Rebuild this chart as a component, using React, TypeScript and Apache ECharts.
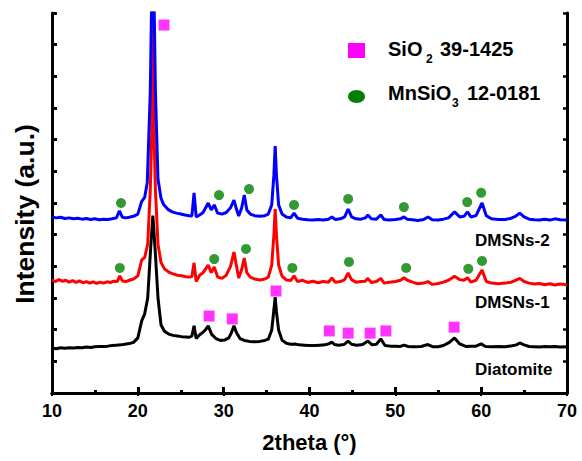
import React, { useEffect, useRef } from "react";
import * as echarts from "echarts";

const xTicks = [10, 20, 30, 40, 50, 60, 70];

const blueDMSNs2: [number, number][] = [
  [10, 556], [10.5, 553], [11, 555], [11.5, 551], [12, 553], [12.5, 550], [13, 552], [13.5, 549], [14, 551], [14.5, 548],
  [15, 550], [15.5, 547], [16, 549], [16.5, 548], [17, 550], [17.5, 553], [17.85, 575], [18.2, 555], [18.6, 553], [19, 555],
  [19.5, 558], [20.0, 565], [20.45, 605], [20.8, 618], [21.1, 665], [21.45, 950], [21.75, 1500], [22.05, 950], [22.35, 675],
  [22.7, 615], [23.0, 595], [23.5, 580], [24, 572], [24.5, 568], [25, 565], [25.5, 562], [26, 560], [26.3, 559], [26.55, 632],
  [26.8, 556], [27.2, 562], [27.6, 570], [27.9, 585], [28.2, 600], [28.55, 578], [28.9, 594], [29.3, 568], [29.8, 565],
  [30.3, 570], [30.8, 585], [31.2, 609], [31.5, 580], [31.75, 559], [32.1, 585], [32.4, 625], [32.7, 578], [33.1, 565],
  [33.6, 560], [34.2, 558], [34.8, 560], [35.2, 565], [35.6, 594], [35.85, 688], [36.0, 780], [36.15, 688], [36.4, 594],
  [36.8, 565], [37.3, 556], [37.8, 553], [38.2, 568], [38.6, 552], [39.2, 549], [39.8, 547], [40.4, 546], [41, 548],
  [41.6, 546], [42.2, 549], [42.6, 556], [43, 548], [43.6, 550], [44.1, 556], [44.5, 581], [44.9, 556], [45.4, 550],
  [46, 549], [46.5, 553], [46.8, 562], [47.2, 550], [47.8, 549], [48.3, 562], [48.7, 548], [49.3, 546], [50, 548],
  [50.6, 550], [51, 556], [51.4, 549], [52, 547], [52.6, 545], [53.3, 548], [53.8, 556], [54.3, 547], [55, 546],
  [55.6, 549], [56.2, 553], [56.9, 572], [57.5, 556], [58, 558], [58.4, 572], [58.8, 556], [59.4, 560], [60.1, 600],
  [60.6, 560], [61.2, 550], [62, 548], [62.8, 548], [63.5, 552], [64, 558], [64.5, 568], [65, 556], [65.6, 549],
  [66.2, 547], [66.8, 546], [67.4, 549], [68, 546], [68.6, 550], [69.2, 547], [70, 546],
];

const redDMSNs1: [number, number][] = [
  [10, 357], [10.4, 352], [10.8, 358], [11.2, 353], [11.6, 356], [12, 350], [12.4, 355], [12.8, 349], [13.2, 354], [13.6, 348],
  [14, 352], [14.4, 347], [14.8, 351], [15.2, 346], [15.6, 350], [16, 347], [16.4, 351], [16.8, 349], [17.2, 353], [17.6, 352],
  [17.9, 370], [18.2, 354], [18.6, 352], [19, 356], [19.5, 360], [20, 370], [20.45, 420], [20.8, 428], [21.15, 470],
  [21.45, 640], [21.62, 820], [21.75, 1500], [21.88, 820], [22.05, 640], [22.35, 470], [22.7, 412], [23.1, 392], [23.6, 382],
  [24.1, 376], [24.6, 372],
  [25.1, 370], [25.6, 367], [26, 366], [26.3, 368], [26.55, 411], [26.8, 352], [27.2, 372], [27.6, 380], [27.9, 392],
  [28.2, 404], [28.55, 380], [28.9, 398], [29.3, 366], [29.8, 362], [30.3, 372], [30.8, 400], [31.2, 445], [31.5, 400],
  [31.75, 363], [32.1, 390], [32.4, 426], [32.7, 380], [33.1, 366], [33.6, 360], [34.2, 357], [34.8, 360], [35.2, 366],
  [35.6, 404], [35.85, 499], [36.0, 581], [36.15, 499], [36.4, 404], [36.8, 369], [37.3, 357], [37.8, 355], [38.2, 370],
  [38.6, 352], [39.2, 356], [39.8, 349], [40.4, 353], [41, 348], [41.6, 352], [42.2, 350], [42.6, 363], [43, 350],
  [43.6, 352], [44.1, 358], [44.5, 379], [44.9, 358], [45.4, 350], [46, 352], [46.5, 353], [46.8, 362], [47.2, 349],
  [47.8, 352], [48.3, 362], [48.7, 347], [49.3, 350], [50, 352], [50.6, 356], [51, 364], [51.4, 356], [52, 350],
  [52.6, 345], [53.3, 347], [53.8, 352], [54.3, 343], [55, 346], [55.6, 350], [56.2, 356], [56.9, 369], [57.5, 358],
  [58, 356], [58.4, 364], [58.8, 350], [59.4, 356], [60.1, 388], [60.6, 352], [61.2, 347], [62, 345], [62.8, 347],
  [63.5, 350], [64, 356], [64.5, 362], [65, 352], [65.6, 347], [66.2, 344], [66.8, 346], [67.4, 342], [68, 345],
  [68.6, 341], [69.2, 344], [70, 342],
];

const blackDiatomite: [number, number][] = [
  [10, 142], [10.5, 140], [11, 143], [11.5, 141], [12, 143], [12.5, 142], [13, 144], [13.5, 143], [14, 145], [14.5, 144],
  [15, 146], [15.5, 147], [16, 147], [16.5, 148], [17, 150], [17.5, 151], [18, 152], [18.5, 154], [19, 156], [19.5, 160],
  [20, 174], [20.45, 228], [20.8, 250], [21.15, 300], [21.5, 460], [21.75, 560], [22.0, 460], [22.35, 300], [22.7, 215],
  [23.1, 195], [23.6, 186], [24.1, 182], [24.6, 180], [25.1, 178], [25.6, 177], [26, 176], [26.3, 180], [26.55, 212],
  [26.8, 172], [27.2, 184], [27.6, 192], [27.9, 200], [28.2, 212], [28.6, 185], [29.1, 172], [29.6, 166], [30.1, 167],
  [30.6, 174], [30.9, 190], [31.2, 212], [31.5, 190], [31.9, 172], [32.4, 166], [33, 163], [33.6, 162], [34.2, 163],
  [34.8, 166], [35.2, 170], [35.6, 199], [35.85, 262], [36.0, 303], [36.15, 256], [36.4, 199], [36.8, 167], [37.3, 157],
  [37.8, 154], [38.3, 155], [38.8, 152], [39.4, 151], [40, 150], [40.6, 150], [41.2, 151], [41.8, 152], [42.3, 156],
  [42.6, 161], [42.9, 153], [43.4, 151], [44, 153], [44.5, 164], [44.9, 154], [45.5, 151], [46.2, 153], [46.8, 164],
  [47.3, 152], [47.8, 154], [48.3, 171], [48.8, 150], [49.4, 148], [50, 148], [50.6, 147], [51, 151], [51.5, 147],
  [52.2, 146], [53, 147], [53.8, 153], [54.4, 146], [55, 146], [55.6, 150], [56.3, 160], [56.9, 174], [57.5, 155],
  [58.2, 147], [58.8, 148], [59.4, 148], [60, 155], [60.5, 147], [61.2, 146], [62, 147], [62.8, 146], [63.6, 149],
  [64.1, 152], [64.5, 158], [65, 152], [65.6, 147], [66.2, 146], [66.8, 145], [67.4, 147], [68, 146], [68.6, 147],
  [69.2, 145], [70, 146],
];

const mnsio3Markers: [number, number][] = [
  [18.04, 600], [29.46, 625], [32.96, 644], [38.2, 594], [44.5, 613], [51.0, 587], [58.37, 603], [60.0, 632],
  [17.9, 395], [28.9, 423], [32.6, 455], [38.0, 395], [44.6, 414], [51.26, 395], [58.5, 392], [60.1, 417],
];

const sio2Markers: [number, number][] = [
  [23.05, 1162], [28.3, 243], [31.0, 234], [36.1, 322], [42.3, 196], [44.5, 189], [47.06, 189], [48.9, 196], [56.85, 208],
];

const seriesNames = ["DMSNs-2", "DMSNs-1", "Diatomite"];
const legendNames = [
  ["SiO", "2", "39-1425"],
  ["MnSiO", "3", "12-0181"],
];
const xName = "2theta (°)";
const yName = "Intensity (a.u.)";

const FONT = "'Liberation Sans', Arial, sans-serif";

export default function App() {
  const ref = useRef<HTMLDivElement>(null);
  useEffect(() => {
    if (!ref.current) return;
    const chart = echarts.init(ref.current, undefined, { renderer: "svg" });
    const axisLine = { show: true, lineStyle: { color: "#000", width: 3 } };
    const txt = (x: number, y: number, s: string, size: number, extra: any = {}, rotation = 0) => ({
      type: "text",
      x,
      y,
      rotation,
      style: {
        text: s,
        fontSize: size,
        fontWeight: "bold",
        fontFamily: FONT,
        fill: "#000",
        verticalAlign: "middle",
        ...extra,
      },
      z: 100,
    });
    chart.setOption({
      animation: false,
      backgroundColor: "#fff",
      grid: { left: 52, right: 15, top: 13, bottom: 68 },
      xAxis: [
        {
          type: "value",
          min: xTicks[0],
          max: xTicks[xTicks.length - 1],
          interval: 10,
          position: "bottom",
          axisLine,
          axisTick: { show: true, inside: true, length: 6, lineStyle: { width: 3, color: "#000" } },
          minorTick: { show: true, splitNumber: 2, length: 3, lineStyle: { width: 3, color: "#000" } },
          splitLine: { show: false },
          axisLabel: { color: "#000", fontSize: 18, fontWeight: "bold", fontFamily: FONT, margin: 9 },
          name: xName,
          nameLocation: "middle",
          nameGap: 38,
          nameTextStyle: { color: "#000", fontSize: 22, fontWeight: "bold", fontFamily: FONT },
        },
        {
          type: "value",
          min: 10,
          max: 70,
          interval: 10,
          position: "top",
          axisLine,
          axisTick: { show: true, inside: true, length: 3, lineStyle: { width: 2, color: "#000" } },
          minorTick: { show: true, splitNumber: 2, length: 2, lineStyle: { width: 2, color: "#000" } },
          splitLine: { show: false },
          axisLabel: { show: false },
        },
      ],
      yAxis: [
        {
          type: "value",
          min: 0,
          max: 1200,
          interval: 100,
          position: "left",
          axisLine,
          axisTick: { show: true, inside: true, length: 5, lineStyle: { width: 3, color: "#000" } },
          splitLine: { show: false },
          axisLabel: { show: false },
        },
        {
          type: "value",
          min: 0,
          max: 1200,
          interval: 100,
          position: "right",
          axisLine,
          axisTick: { show: true, inside: true, length: 4, lineStyle: { width: 2.5, color: "#000" } },
          splitLine: { show: false },
          axisLabel: { show: false },
        },
      ],
      series: [
        {
          name: seriesNames[2],
          type: "line",
          data: blackDiatomite,
          showSymbol: false,
          symbol: "none",
          lineStyle: { color: "#000000", width: 3 },
          z: 2,
        },
        {
          name: seriesNames[1],
          type: "line",
          data: redDMSNs1,
          showSymbol: false,
          symbol: "none",
          lineStyle: { color: "#ff0000", width: 3 },
          z: 3,
        },
        {
          name: seriesNames[0],
          type: "line",
          data: blueDMSNs2,
          showSymbol: false,
          symbol: "none",
          lineStyle: { color: "#0000ff", width: 3 },
          z: 4,
        },
        {
          name: "MnSiO3",
          type: "scatter",
          data: mnsio3Markers,
          symbol: "circle",
          symbolSize: 10,
          itemStyle: { color: "#008000" },
          z: 10,
        },
        {
          name: "SiO2",
          type: "scatter",
          data: sio2Markers,
          symbol: "rect",
          symbolSize: 11,
          itemStyle: { color: "#ff00ff" },
          z: 10,
        },
      ],
      graphic: [
        { type: "rect", shape: { x: 348, y: 43, width: 17, height: 15 }, style: { fill: "#ff00ff" }, z: 100 },
        { type: "ellipse", shape: { cx: 356.5, cy: 96.5, rx: 8.5, ry: 6.5 }, style: { fill: "#008000" }, z: 100 },
        txt(388, 49, legendNames[0][0], 20),
        txt(426, 59, legendNames[0][1], 12),
        txt(440, 49, legendNames[0][2], 20),
        txt(388, 93, legendNames[1][0], 20),
        txt(452, 103, legendNames[1][1], 12),
        txt(467, 93, legendNames[1][2], 20),
        txt(475, 240, seriesNames[0], 17),
        txt(475, 302, seriesNames[1], 17),
        txt(475, 369, seriesNames[2], 17),
        txt(25, 214, yName, 26.5, { align: "center" }, Math.PI / 2),
      ],
    });
    return () => chart.dispose();
  }, []);
  return <div ref={ref} style={{ position: "fixed", left: 0, top: 0, width: 582, height: 461 }} />;
}
